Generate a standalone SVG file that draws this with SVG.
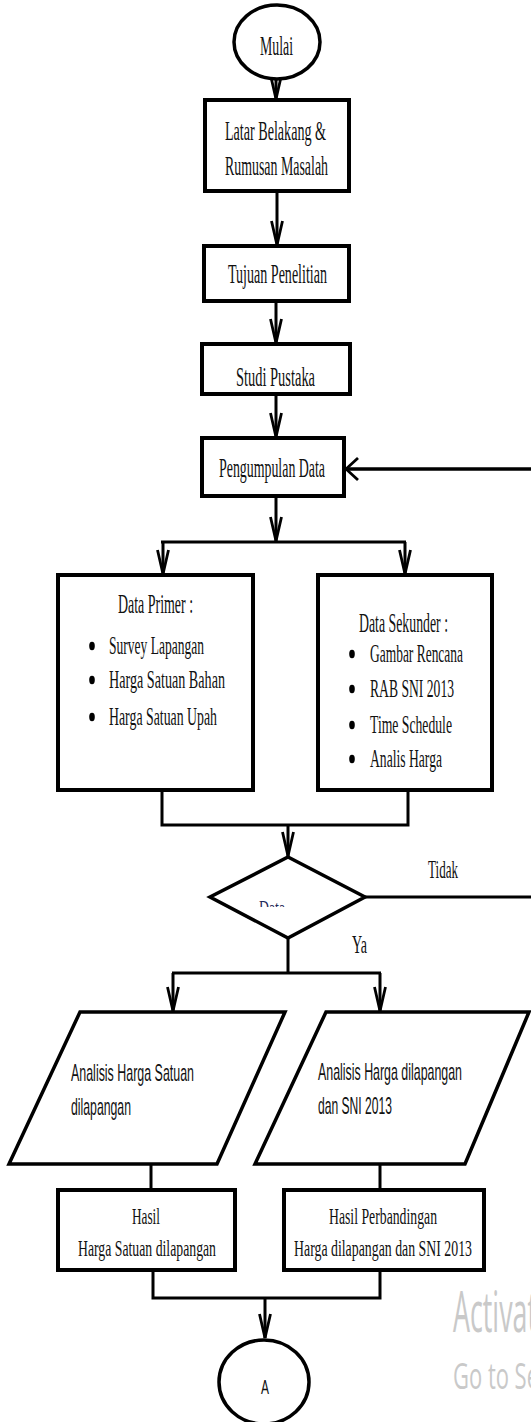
<svg xmlns="http://www.w3.org/2000/svg" width="531" height="1422" viewBox="0 0 531 1422">
<style>
.box{fill:#fff;stroke:#000;stroke-width:4}
.shape{fill:#fff;stroke:#000;stroke-width:3.5}
.ln{fill:none;stroke:#000;stroke-width:3}
.av{fill:none;stroke:#000;stroke-width:3;marker-end:url(#mv)}
.ah{fill:none;stroke:#000;stroke-width:3.5;marker-end:url(#mh)}
.t{font-family:"Liberation Serif","Times New Roman",serif;font-size:28px;fill:#111}
.ti{font-family:"Liberation Serif","Times New Roman",serif;font-size:25px;fill:#111}
.th{font-family:"Liberation Serif","Times New Roman",serif;font-size:24px;fill:#111}
.s{font-family:"Liberation Sans",Arial,sans-serif;font-size:24px;fill:#111}
.wm{font-family:"Open Sans","Liberation Sans",sans-serif;fill:#c9c9c9}
</style>
<defs>
<marker id="mv" viewBox="-26 -8 28 16" refX="0" refY="0" markerWidth="28" markerHeight="16" markerUnits="userSpaceOnUse" orient="auto">
<path d="M-24,-5.5 L0,0 L-24,5.5" fill="none" stroke="#000" stroke-width="2.8"/>
</marker>
<marker id="mh" viewBox="-14 -13 16 26" refX="0" refY="0" markerWidth="16" markerHeight="26" markerUnits="userSpaceOnUse" orient="auto">
<path d="M-12,-11 L0,0 L-12,11" fill="none" stroke="#000" stroke-width="2.8"/>
</marker>
<clipPath id="clipData"><rect x="240" y="890" width="60" height="17"/></clipPath>
</defs>

<g id="connectors">
<path class="av" d="M276,58 V99"/>
<path class="av" d="M277,192 V245"/>
<path class="av" d="M276,302 V343"/>
<path class="av" d="M276,395 V437"/>
<path class="ah" d="M531,469 H346"/>
<path class="av" d="M276,497 V541"/>
<path class="ln" d="M161,542 H406"/>
<path class="av" d="M163,542 V574"/>
<path class="av" d="M405,542 V574"/>
<path class="ln" d="M162,792 V825 H408 V792"/>
<path class="av" d="M288,825 V856"/>
<path class="ln" d="M365,897 H531"/>
<path class="ln" d="M288,938 V973"/>
<path class="ln" d="M172,973 H381"/>
<path class="av" d="M173,973 V1011"/>
<path class="av" d="M380,973 V1011"/>
<path class="ln" d="M151,1164 V1190"/>
<path class="ln" d="M380,1164 V1190"/>
<path class="ln" d="M153,1271 V1298 H380 V1271"/>
<path class="av" d="M265,1298 V1338"/>
<text class="ti" x="428" y="878" textLength="30" lengthAdjust="spacingAndGlyphs">Tidak</text>
<text class="ti" x="352" y="953" textLength="15" lengthAdjust="spacingAndGlyphs">Ya</text>
</g>

<g id="mulai">
<ellipse class="shape" cx="277" cy="42" rx="43" ry="37"/>
<text class="t" x="260" y="55" textLength="33" lengthAdjust="spacingAndGlyphs">Mulai</text>
</g>

<g id="latar">
<rect class="box" x="205" y="100" width="144" height="91"/>
<text class="t" x="225" y="140" textLength="101" lengthAdjust="spacingAndGlyphs">Latar Belakang &amp;</text>
<text class="t" x="225" y="175" textLength="103" lengthAdjust="spacingAndGlyphs">Rumusan Masalah</text>
</g>

<g id="tujuan">
<rect class="box" x="204" y="246" width="145" height="55"/>
<text class="t" x="228" y="283" textLength="99" lengthAdjust="spacingAndGlyphs">Tujuan Penelitian</text>
</g>

<g id="studi">
<rect class="box" x="202" y="344" width="148" height="50"/>
<text class="t" x="236" y="386" textLength="79" lengthAdjust="spacingAndGlyphs">Studi Pustaka</text>
</g>

<g id="pengumpulan">
<rect class="box" x="202" y="438" width="142" height="58"/>
<text class="t" x="219" y="477" textLength="106" lengthAdjust="spacingAndGlyphs">Pengumpulan Data</text>
</g>

<g id="data-primer">
<rect class="box" x="58" y="575" width="195" height="215"/>
<text class="t" x="118" y="613" textLength="75" lengthAdjust="spacingAndGlyphs">Data Primer :</text>
<ellipse cx="92" cy="646" rx="2.8" ry="4.2" fill="#000"/>
<ellipse cx="92" cy="680" rx="2.8" ry="4.2" fill="#000"/>
<ellipse cx="92" cy="717" rx="2.8" ry="4.2" fill="#000"/>
<text class="ti" x="109" y="654" textLength="95" lengthAdjust="spacingAndGlyphs">Survey Lapangan</text>
<text class="ti" x="109" y="688" textLength="116" lengthAdjust="spacingAndGlyphs">Harga Satuan  Bahan</text>
<text class="ti" x="109" y="725" textLength="108" lengthAdjust="spacingAndGlyphs">Harga Satuan Upah</text>
</g>

<g id="data-sekunder">
<rect class="box" x="318" y="575" width="174" height="215"/>
<text class="t" x="359" y="632" textLength="89" lengthAdjust="spacingAndGlyphs">Data Sekunder :</text>
<ellipse cx="352" cy="654" rx="2.8" ry="4.2" fill="#000"/>
<ellipse cx="352" cy="689" rx="2.8" ry="4.2" fill="#000"/>
<ellipse cx="352" cy="725" rx="2.8" ry="4.2" fill="#000"/>
<ellipse cx="352" cy="759" rx="2.8" ry="4.2" fill="#000"/>
<text class="ti" x="370" y="662" textLength="93" lengthAdjust="spacingAndGlyphs">Gambar Rencana</text>
<text class="ti" x="370" y="697" textLength="84" lengthAdjust="spacingAndGlyphs">RAB SNI 2013</text>
<text class="ti" x="370" y="733" textLength="82" lengthAdjust="spacingAndGlyphs">Time Schedule</text>
<text class="ti" x="370" y="767" textLength="72" lengthAdjust="spacingAndGlyphs">Analis Harga</text>
</g>

<g id="decision">
<polygon class="shape" points="288,857 365,897 288,938 210,897"/>
<text x="259" y="915" textLength="26" lengthAdjust="spacingAndGlyphs" clip-path="url(#clipData)" style="font-family:'Liberation Serif',serif;font-size:20px;fill:#1f2a5a">Data</text>
</g>

<g id="analisis-satuan">
<polygon class="shape" points="80,1012 285,1012 217,1164 9,1164"/>
<text class="s" x="71" y="1081" textLength="123" lengthAdjust="spacingAndGlyphs">Analisis Harga  Satuan</text>
<text class="s" x="71" y="1115" textLength="60" lengthAdjust="spacingAndGlyphs">dilapangan</text>
</g>

<g id="analisis-sni">
<polygon class="shape" points="326,1012 529,1012 465,1164 255,1164"/>
<text class="s" x="318" y="1080" textLength="144" lengthAdjust="spacingAndGlyphs">Analisis Harga dilapangan</text>
<text class="s" x="318" y="1114" textLength="74" lengthAdjust="spacingAndGlyphs">dan SNI 2013</text>
</g>

<g id="hasil-satuan">
<rect class="box" x="58" y="1190" width="177" height="80"/>
<text class="th" x="132" y="1224" textLength="28" lengthAdjust="spacingAndGlyphs">Hasil</text>
<text class="th" x="78" y="1256" textLength="138" lengthAdjust="spacingAndGlyphs">Harga Satuan dilapangan</text>
</g>

<g id="hasil-perbandingan">
<rect class="box" x="284" y="1190" width="200" height="80"/>
<text class="th" x="329" y="1224" textLength="108" lengthAdjust="spacingAndGlyphs">Hasil Perbandingan</text>
<text class="th" x="294" y="1256" textLength="178" lengthAdjust="spacingAndGlyphs">Harga dilapangan dan SNI 2013</text>
</g>

<g id="konektor-a">
<ellipse class="shape" cx="264" cy="1382" rx="45" ry="42"/>
<text x="261" y="1394" textLength="8" lengthAdjust="spacingAndGlyphs" style="font-family:'Liberation Sans',sans-serif;font-size:21px;fill:#111">A</text>
</g>

<g id="watermark">
<text class="wm" x="453" y="1332" textLength="84" lengthAdjust="spacingAndGlyphs" style="font-size:56px">Activat</text>
<text class="wm" x="453" y="1389" textLength="86" lengthAdjust="spacingAndGlyphs" style="font-size:36px">Go to Se</text>
</g>
</svg>
